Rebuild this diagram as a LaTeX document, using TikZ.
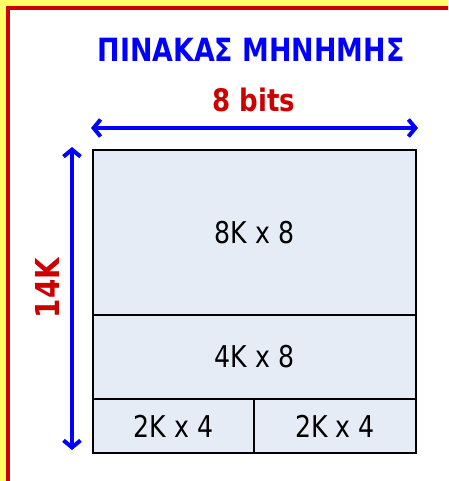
\documentclass[tikz,border=0pt]{standalone}
\usepackage{fontspec}
\setmainfont{DejaVu Sans}[FakeStretch=0.84]
\usepackage{tikz}
\usetikzlibrary{arrows.meta, positioning}
\definecolor{memblue}{RGB}{0,0,255}
\definecolor{memred}{RGB}{204,0,0}
\definecolor{cellfill}{RGB}{230,236,246}
\definecolor{pageyellow}{RGB}{255,255,102}

\begin{document}
\begin{tikzpicture}[x=1pt, y=-1pt, >={Straight Barb[length=7pt, width=17pt]},
  cell/.style={draw, line width=2.5pt, fill=cellfill, outer sep=0pt, inner sep=0pt,
               font=\fontsize{30}{36}\selectfont},
  dimarrow/.style={<->, memblue, line width=4pt, line cap=round}]
\useasboundingbox (0,0) rectangle (448,481);

% Page frame (yellow margin, red rule)
\fill[pageyellow] (0,0) rectangle (448,481);
\begin{scope}
\clip (0,0) rectangle (448,481);
\draw[memred, line width=3.5pt, fill=white] (8,8) rectangle (470,510);
\end{scope}

% Title
\node[memblue, font=\bfseries\fontsize{32}{38}\selectfont] (title) at (251,50) {ΠΙΝΑΚΑΣ ΜΗΝΗΜΗΣ};

% Memory array cells
\node[cell, minimum width=323pt, minimum height=165pt] (mem8k) at (254.5,232.5) {8K x 8};
\node[cell, minimum width=323pt, minimum height=84pt, below=0pt of mem8k] (mem4k) {4K x 8};
\node[cell, minimum width=161pt, minimum height=54pt,
      below right=0pt and 0pt of mem4k.south west] (mem2ka) {2K x 4};
\node[cell, minimum width=162pt, minimum height=54pt, right=0pt of mem2ka] (mem2kb) {2K x 4};

% Width: 8 bits
\coordinate (wl) at (91,128);
\coordinate (wr) at (418,128);
\draw[dimarrow] (wl) -- (wr);
\node[memred, anchor=base, font=\bfseries\fontsize{31}{37}\selectfont] (bits) at (254,112) {8 bits};

% Depth: 14K
\coordinate (dt) at (72,147);
\coordinate (db) at (72,450);
\draw[dimarrow] (dt) -- (db);
\node[memred, rotate=90, font=\bfseries\fontsize{33}{39}\selectfont] (depth) at (47,288) {14K};
\end{tikzpicture}
\end{document}
